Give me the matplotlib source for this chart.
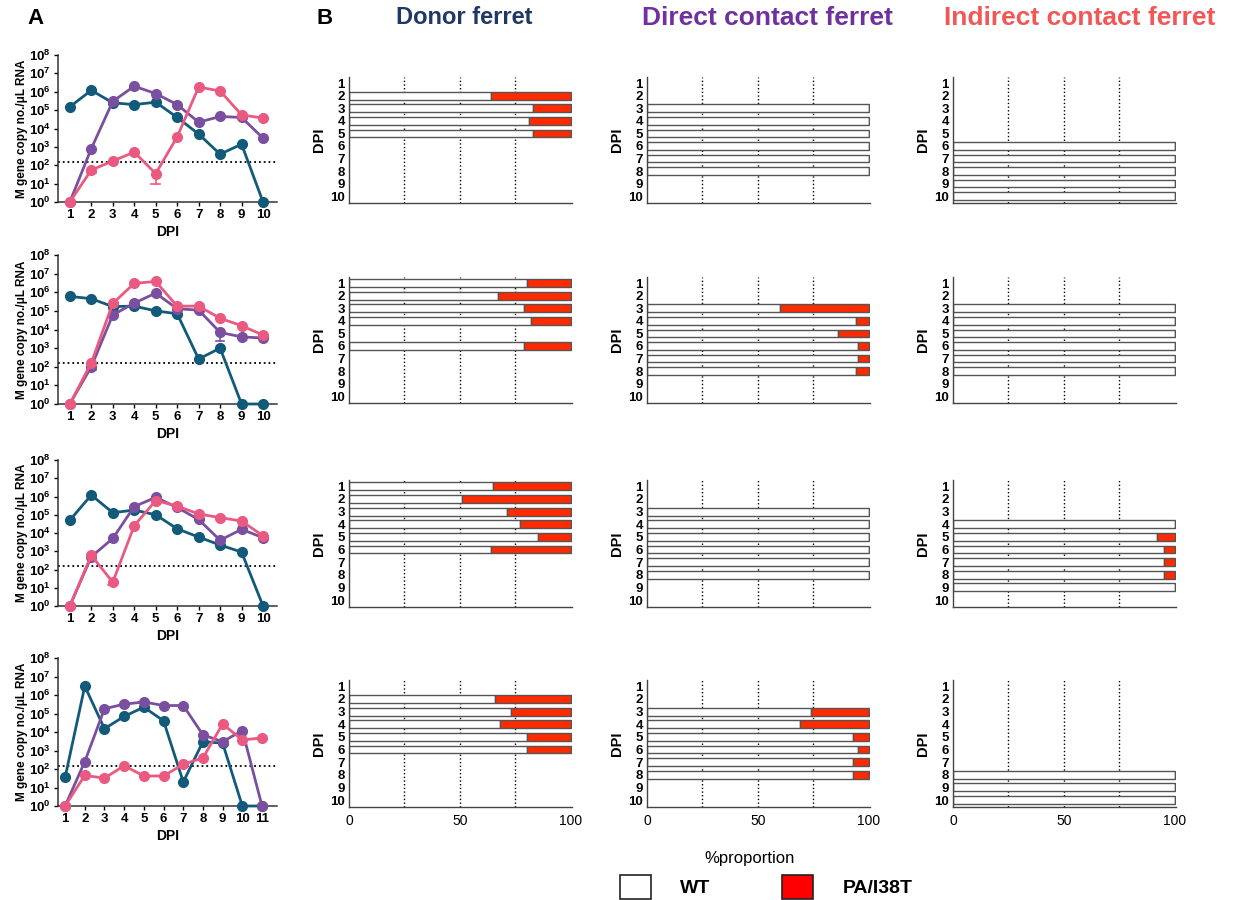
import matplotlib.pyplot as plt
from matplotlib.patches import Patch

plt.rcParams['font.family'] = ['Liberation Sans', 'DejaVu Sans']
plt.rcParams['mathtext.fontset'] = 'custom'
plt.rcParams['mathtext.rm'] = 'Liberation Sans'
plt.rcParams['mathtext.bf'] = 'Liberation Sans:bold'
plt.rcParams['mathtext.default'] = 'bf'

# ---- panel A: M gene copies per ferret pair/trio ----
dpi_a = [
    [1, 2, 3, 4, 5, 6, 7, 8, 9, 10],
    [1, 2, 3, 4, 5, 6, 7, 8, 9, 10],
    [1, 2, 3, 4, 5, 6, 7, 8, 9, 10],
    [1, 2, 3, 4, 5, 6, 7, 8, 9, 10, 11],
]
donor_a = [
    [1.5e5, 1.2e6, 2.5e5, 2e5, 2.7e5, 4e4, 5e3, 4e2, 1.4e3, 1],
    [6e5, 4.5e5, 1.7e5, 1.8e5, 1e5, 7e4, 260, 1e3, 1, 1],
    [5e4, 1.2e6, 1.3e5, 1.8e5, 1e5, 1.7e4, 6e3, 2.2e3, 900, 1],
    [35, 3e6, 1.5e4, 7e4, 2.2e5, 4e4, 20, 3e3, 2.5e3, 1, 1],
]
direct_a = [
    [1, 8e2, 3e5, 2e6, 8e5, 2e5, 2.2e4, 4.5e4, 4e4, 3e3],
    [1, 100, 6e4, 2.6e5, 9e5, 1.3e5, 1.1e5, 7e3, 4e3, 3.5e3],
    [1, 500, 5e3, 2.8e5, 9e5, 2.5e5, 5.5e4, 4e3, 1.6e4, 5.5e3],
    [1, 250, 1.8e5, 3.2e5, 4.2e5, 2.7e5, 2.7e5, 7e3, 3e3, 1.2e4, 1],
]
indirect_a = [
    [1, 55, 170, 520, 35, 3.5e3, 1.8e6, 1.1e6, 5.5e4, 3.7e4],
    [1, 160, 2.5e5, 3e6, 3.8e6, 1.8e5, 1.8e5, 4e4, 1.6e4, 5e3],
    [1, 600, 20, 2.5e4, 6e5, 3e5, 1.1e5, 7e4, 4.5e4, 7e3],
    [1, 45, 32, 150, 42, 42, 180, 400, 2.7e4, 3.7e3, 4.8e3],
]
# visible error bars: (row, series, dpi, low, high)
errs_a = [
    (0, 'indirect', 5, 10, 35),
    (0, 'indirect', 2, 40, 55),
    (1, 'direct', 8, 2.3e3, 1.2e4),
    (1, 'direct', 2, 65, 100),
    (2, 'indirect', 3, 15, 25),
    (3, 'donor', 3, 1.1e4, 1.5e4),
]
detect_limit = 150

# ---- panel B: % WT per day (remainder is PA/I38T) ----
donor_days = [[2, 3, 4, 5], [1, 2, 3, 4, 6], [1, 2, 3, 4, 5, 6], [2, 3, 4, 5, 6]]
donor_wt = [[64, 83, 81, 83], [80, 67, 79, 82, 79], [65, 51, 71, 77, 85, 64], [66, 73, 68, 80, 80]]
direct_days = [[3, 4, 5, 6, 7, 8], [3, 4, 5, 6, 7, 8], [3, 4, 5, 6, 7, 8], [3, 4, 5, 6, 7, 8]]
direct_wt = [[100, 100, 100, 100, 100, 100], [60, 94, 86, 95, 95, 94],
             [100, 100, 100, 100, 100, 100], [74, 69, 93, 95, 93, 93]]
indirect_days = [[6, 7, 8, 9, 10], [3, 4, 5, 6, 7, 8], [4, 5, 6, 7, 8, 9], [8, 9, 10]]
indirect_wt = [[100, 100, 100, 100, 100], [100, 100, 100, 100, 100, 100],
               [100, 92, 95, 95, 95, 100], [100, 100, 100]]

col_names = ['Donor ferret', 'Direct contact ferret', 'Indirect contact ferret']
col_colors = ['#1f3864', '#7030a0', '#f25757']

c_donor = '#125a7a'
c_direct = '#7b4f9f'
c_indirect = '#ea5a80'
c_wt = 'white'
c_mut = '#ff2a00'

W, H = 1238, 900
fig = plt.figure(figsize=(W / 100, H / 100), dpi=100)


def px_axes(x0, y0, x1, y1):
    return fig.add_axes([x0 / W, 1 - y1 / H, (x1 - x0) / W, (y1 - y0) / H])


line_rows = [(55, 202), (255, 404), (460, 606), (658, 806)]
bar_rows = [(77, 203), (277, 403), (480, 607), (680, 807)]
bar_cols = [(349, 572), (647, 870), (953, 1176)]

series = {'donor': (donor_a, c_donor), 'direct': (direct_a, c_direct), 'indirect': (indirect_a, c_indirect)}

for r in range(4):
    y0, y1 = line_rows[r]
    ax = px_axes(58, y0, 277, y1)
    x = dpi_a[r]
    for name in ['donor', 'direct', 'indirect']:
        vals, col = series[name]
        ax.plot(x, vals[r], '-o', color=col, lw=2, ms=7, clip_on=False, zorder=3)
    for (row, name, d, lo, hi) in errs_a:
        if row == r:
            ax.plot([d, d], [lo, hi], color=series[name][1], lw=1.2, zorder=2)
            ax.plot([d - 0.2, d + 0.2], [lo, lo], color=series[name][1], lw=1.2, zorder=2)
    ax.axhline(detect_limit, color='k', ls=':', lw=1.3, zorder=1)
    ax.set_yscale('log')
    ax.set_ylim(1, 1e8)
    ax.set_xlim(0.45 if len(x) == 10 else 0.64, 10.65 if len(x) == 10 else 11.76)
    ax.set_yticks([10 ** k for k in range(9)])
    ax.set_yticklabels([r'$10^{%d}$' % k for k in range(9)], fontsize=9.5)
    ax.minorticks_off()
    ax.set_xticks(x)
    ax.set_xticklabels([str(v) for v in x], fontsize=9.5, fontweight='bold')
    ax.tick_params(length=3, width=1, pad=2)
    for s in ['top', 'right']:
        ax.spines[s].set_visible(False)
    for s in ['left', 'bottom']:
        ax.spines[s].set_linewidth(1.1)
        ax.spines[s].set_color('#333333')
    ax.set_ylabel('M gene copy no./μL RNA', fontsize=8.5, fontweight='bold', labelpad=1)
    ax.set_xlabel('DPI', fontsize=10, fontweight='bold', labelpad=3)

all_days = [donor_days, direct_days, indirect_days]
all_wt = [donor_wt, direct_wt, indirect_wt]

for r in range(4):
    y0, y1 = bar_rows[r]
    for c in range(3):
        x0, x1 = bar_cols[c]
        ax = px_axes(x0, y0, x1, y1)
        days = all_days[c][r]
        wt = all_wt[c][r]
        mut = [100 - v for v in wt]
        for g in [25, 50, 75]:
            ax.axvline(g, color='k', ls=':', lw=1, zorder=0)
        ax.barh(days, wt, height=0.62, color=c_wt, edgecolor='#555555', lw=1, zorder=2)
        ax.barh(days, mut, left=wt, height=0.62, color=c_mut, edgecolor='#555555', lw=1, zorder=2)
        ax.set_xlim(0, 100.5)
        ax.set_ylim(10.55, 0.5)
        ax.set_yticks(range(1, 11))
        ax.set_yticklabels([str(v) for v in range(1, 11)], fontsize=9.5, fontweight='bold')
        ax.set_ylabel('DPI', fontsize=10.5, fontweight='bold', labelpad=3)
        ax.tick_params(length=0, pad=3)
        if r == 3:
            ax.set_xticks([0, 50, 100])
            ax.set_xticklabels(['0', '50', '100'], fontsize=10)
            ax.tick_params(axis='x', pad=5)
        else:
            ax.set_xticks([])
        for s in ['top', 'right']:
            ax.spines[s].set_visible(False)
        for s in ['left', 'bottom']:
            ax.spines[s].set_color('#444444')
            ax.spines[s].set_linewidth(1)

title_x = [464, 767, 1080]
title_size = [17, 19, 19]
for c in range(3):
    fig.text(title_x[c] / W, 1 - 18 / H, col_names[c], color=col_colors[c],
             fontsize=title_size[c], fontweight='bold', ha='center', va='center')

fig.text(35 / W, 1 - 18 / H, 'A', fontsize=16, fontweight='bold', ha='center', va='center')
fig.text(325 / W, 1 - 18 / H, 'B', fontsize=16, fontweight='bold', ha='center', va='center')

fig.text(750 / W, 1 - 858 / H, '%proportion', fontsize=12, ha='center', va='center')
handles = [Patch(facecolor='white', edgecolor='#222222', lw=1.2),
           Patch(facecolor='#ff0000', edgecolor='#222222', lw=1.2)]
fig.legend(handles=handles, labels=['WT', 'PA/I38T'], ncol=2, loc='center',
           bbox_to_anchor=(766 / W, 1 - 887 / H), frameon=False,
           handlelength=1.6, handleheight=1.6, handletextpad=1.5, columnspacing=3.7,
           prop={'size': 14, 'weight': 'bold'})

fig.savefig('out.png', dpi=100)
